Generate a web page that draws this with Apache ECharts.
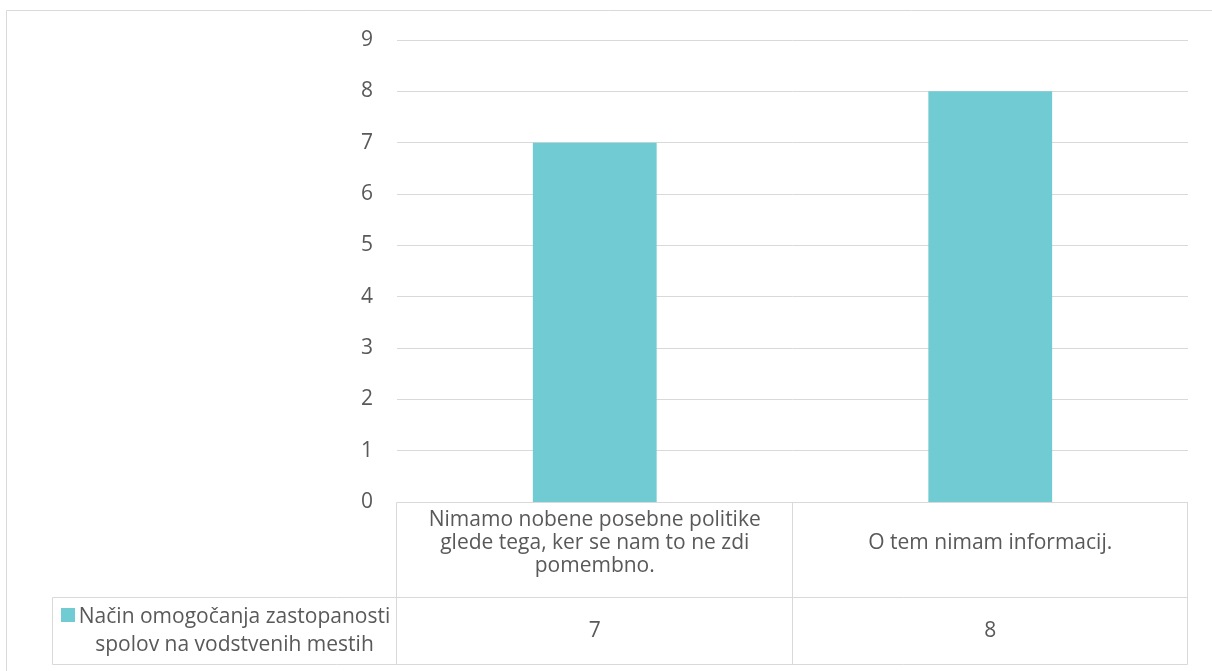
<!DOCTYPE html>
<html>
<head>
<meta charset="utf-8">
<script src="https://cdn.jsdelivr.net/npm/echarts@6/dist/echarts.min.js"></script>
<style>
  html, body { margin: 0; padding: 0; background: #ffffff; }
  #chart { width: 1212px; height: 671px; }
</style>
</head>
<body>
<div id="chart"></div>
<script>
// Survey answers and counts
const categories = [
  'Nimamo nobene posebne politike glede tega, ker se nam to ne zdi pomembno.',
  'O tem nimam informacij.'
];
const categoryLabels = [
  'Nimamo nobene posebne politike\nglede tega, ker se nam to ne zdi\npomembno.',
  'O tem nimam informacij.'
];
const seriesName = 'Način omogočanja zastopanosti spolov na vodstvenih mestih';
const legendLines = ['Način omogočanja zastopanosti', 'spolov na vodstvenih mestih'];
const values = [7, 8];
const yMin = 0, yMax = 9, yStep = 1;

// Look & layout
const FONT = 'Open Sans';
const TEXT = '#595959';
const LINE = '#D9D9D9';
const BAR = '#71CBD3';
const FS = 21;
const G = { left: 397, right: 24, top: 40, bottom: 169 };
const W = 1212, H = 671;

const chart = echarts.init(document.getElementById('chart'), null, { renderer: 'canvas' });

chart.setOption({
  animation: false,
  backgroundColor: '#ffffff',
  textStyle: { fontFamily: FONT },
  grid: { left: G.left, right: G.right, top: G.top, bottom: G.bottom, containLabel: false },
  xAxis: {
    type: 'category',
    data: categories,
    axisLine: { show: false },
    axisTick: { show: false },
    axisLabel: {
      interval: 0,
      hideOverlap: false,
      margin: 41,
      verticalAlign: 'middle',
      align: 'center',
      color: TEXT,
      fontFamily: FONT,
      fontSize: FS,
      lineHeight: 23,
      formatter: (v, i) => categoryLabels[i]
    }
  },
  yAxis: {
    type: 'value',
    min: yMin, max: yMax, interval: yStep,
    axisLine: { show: false },
    axisTick: { show: false },
    axisLabel: { margin: 24, color: TEXT, fontFamily: FONT, fontSize: FS },
    splitLine: { lineStyle: { color: LINE, width: 1 } }
  },
  series: [{
    name: seriesName,
    type: 'bar',
    data: values,
    barWidth: '31.3%',
    itemStyle: { color: BAR }
  }]
});

// Data table under the plot area
function drawTable() {
  const x0 = G.left - 0.5;
  const x2 = W - G.right - 0.5;
  const c0 = chart.convertToPixel({ xAxisIndex: 0 }, categories[0]);
  const c1 = chart.convertToPixel({ xAxisIndex: 0 }, categories[1]);
  const x1 = Math.round((c0 + c1) / 2) - 0.5;
  const yTop = H - G.bottom + 0.5;
  const yMid = 597.5;
  const yBot = 664.5;
  const xLeg = 52.5;
  const ls = { stroke: LINE, lineWidth: 1 };
  const line = (a, b, c, d) => ({ type: 'line', silent: true, shape: { x1: a, y1: b, x2: c, y2: d }, style: ls });
  const font = FS + 'px "' + FONT + '"';

  const els = [
    // outer chart border
    { type: 'rect', silent: true, shape: { x: 6.5, y: 10.5, width: 1220, height: 700 }, style: { fill: null, stroke: LINE, lineWidth: 1 } },
    line(x0, yTop, x2, yTop),
    line(xLeg, yMid, x2, yMid),
    line(xLeg, yBot, x2, yBot),
    line(x0, yTop, x0, yBot),
    line(x1, yTop, x1, yBot),
    line(x2, yTop, x2, yBot),
    line(xLeg, yMid, xLeg, yBot)
  ];

  const valY = 631;
  [c0, c1].forEach((cx, i) => {
    els.push({
      type: 'text', silent: true,
      style: { x: cx, y: valY, text: String(values[i]), fill: TEXT, font: font, align: 'center', verticalAlign: 'middle' }
    });
  });

  // legend key inside the table
  const legCx = 234.5;
  els.push({ type: 'rect', silent: true, shape: { x: 61, y: 608, width: 14, height: 14 }, style: { fill: BAR } });
  els.push({
    type: 'text', silent: true,
    style: { x: legCx, y: 617, text: legendLines[0], fill: TEXT, font: font, align: 'center', verticalAlign: 'middle' }
  });
  els.push({
    type: 'text', silent: true,
    style: { x: legCx, y: 645, text: legendLines[1], fill: TEXT, font: font, align: 'center', verticalAlign: 'middle' }
  });

  chart.setOption({ graphic: els });
}
drawTable();
</script>
</body>
</html>
